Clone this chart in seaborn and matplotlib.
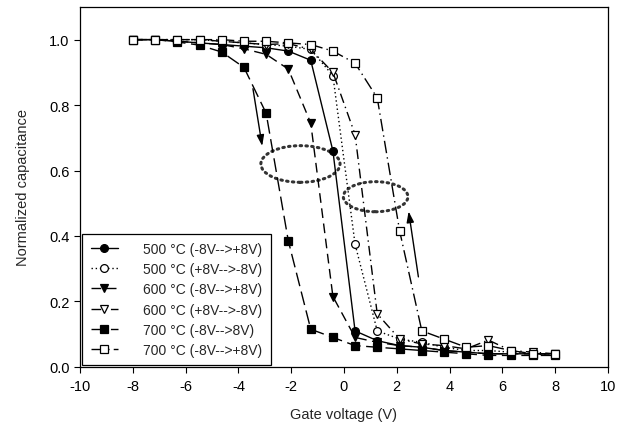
import numpy as np
import pandas as pd
import matplotlib
matplotlib.use("Agg")
import matplotlib.pyplot as plt
from matplotlib.patches import Ellipse
import seaborn as sns

# ---- data ----
gate_voltage = [-8.0, -7.16, -6.32, -5.47, -4.63, -3.79, -2.95, -2.11, -1.26, -0.42,
                0.42, 1.26, 2.11, 2.95, 3.79, 4.63, 5.47, 6.32, 7.16, 8.0]

c500_up = [1.0, 1.0, 0.995, 0.99, 0.985, 0.98, 0.975, 0.965, 0.937, 0.66,
           0.11, 0.08, 0.065, 0.06, 0.05, 0.045, 0.04, 0.04, 0.04, 0.04]
c500_down = [1.0, 1.0, 1.0, 1.0, 0.995, 0.99, 0.985, 0.98, 0.97, 0.89,
             0.375, 0.11, 0.085, 0.075, 0.06, 0.05, 0.05, 0.045, 0.04, 0.035]
c600_up = [1.0, 1.0, 0.995, 0.99, 0.985, 0.972, 0.955, 0.91, 0.745, 0.215,
           0.09, 0.075, 0.065, 0.06, 0.05, 0.045, 0.04, 0.04, 0.04, 0.04]
c600_down = [1.0, 1.0, 1.0, 1.0, 0.995, 0.99, 0.985, 0.988, 0.97, 0.90,
             0.71, 0.162, 0.085, 0.07, 0.065, 0.055, 0.082, 0.05, 0.045, 0.04]
c700_up_filled = [1.0, 1.0, 0.993, 0.983, 0.962, 0.915, 0.775, 0.385, 0.115, 0.09,
                  0.065, 0.06, 0.055, 0.05, 0.045, 0.04, 0.035, 0.035, 0.035, 0.035]
c700_up_open = [1.0, 1.0, 1.0, 1.0, 1.0, 0.995, 0.995, 0.99, 0.985, 0.965,
                0.928, 0.822, 0.415, 0.11, 0.085, 0.06, 0.065, 0.05, 0.04, 0.04]

labels = ["500 \u00b0C (-8V-->+8V)", "500 \u00b0C (+8V-->-8V)",
          "600 \u00b0C (-8V-->+8V)", "600 \u00b0C (+8V-->-8V)",
          "700 \u00b0C (-8V-->8V)", "700 \u00b0C (-8V-->+8V)"]

x_ticks = [-10, -8, -6, -4, -2, 0, 2, 4, 6, 8, 10]
y_ticks = [0.0, 0.2, 0.4, 0.6, 0.8, 1.0]

series = [c500_up, c500_down, c600_up, c600_down, c700_up_filled, c700_up_open]
styles = [
    dict(marker="o", mfc="black", ls="-"),
    dict(marker="o", mfc="white", ls=(0, (1, 2))),
    dict(marker="v", mfc="black", ls=(0, (7, 4))),
    dict(marker="v", mfc="white", ls=(0, (7, 3, 1, 3))),
    dict(marker="s", mfc="black", ls=(0, (10, 4))),
    dict(marker="s", mfc="white", ls=(0, (9, 3, 1, 3))),
]

sns.set_style("ticks")
plt.rcParams["font.family"] = ["Liberation Sans", "DejaVu Sans"]
plt.rcParams["axes.unicode_minus"] = False

fig = plt.figure(figsize=(6.26, 4.39), dpi=100)
ax = fig.add_axes([0.128, 0.162, 0.843, 0.820])

for vals, lab, st in zip(series, labels, styles):
    df = pd.DataFrame({"V": gate_voltage, "C": vals})
    sns.lineplot(data=df, x="V", y="C", ax=ax, color="black", linewidth=1.0,
                 linestyle=st["ls"], marker=st["marker"], markersize=5.6,
                 markerfacecolor=st["mfc"], markeredgecolor="black",
                 markeredgewidth=0.9, label=lab, sort=False, estimator=None)

# dotted ellipses
ax.add_patch(Ellipse((-1.65, 0.62), 3.0, 0.112, fill=False, ls=(0, (0.5, 1.4)),
                     lw=2.2, ec="#333333", capstyle="round"))
ax.add_patch(Ellipse((1.2, 0.52), 2.45, 0.092, fill=False, ls=(0, (0.5, 1.4)),
                     lw=2.2, ec="#333333", capstyle="round"))

# arrows
arrow_style = "-|>,head_width=0.22,head_length=0.65"
ax.annotate("", xy=(-3.1, 0.675), xytext=(-3.45, 0.85),
            arrowprops=dict(arrowstyle=arrow_style, color="black", lw=1.0,
                            mutation_scale=10, shrinkA=0, shrinkB=0))
ax.annotate("", xy=(2.45, 0.475), xytext=(2.82, 0.275),
            arrowprops=dict(arrowstyle=arrow_style, color="black", lw=1.0,
                            mutation_scale=10, shrinkA=0, shrinkB=0))

ax.set_xlim(-10, 10)
ax.set_ylim(0, 1.1)
ax.set_xticks(x_ticks)
ax.set_yticks(y_ticks)
ax.set_xticklabels([str(v) for v in x_ticks])
ax.set_yticklabels([f"{v:.1f}" for v in y_ticks])
ax.tick_params(direction="out", length=4, width=0.8, labelsize=10.5, colors="black")
ax.tick_params(axis="x", pad=5)
for s in ax.spines.values():
    s.set_visible(True)
    s.set_linewidth(0.9)
    s.set_color("black")
ax.set_xlabel("Gate voltage (V)", fontsize=10.5, labelpad=10)
ax.set_ylabel("Normalized capacitance", fontsize=10.5, labelpad=14)

leg = ax.legend(loc="lower left", bbox_to_anchor=(0.004, 0.004), frameon=True,
                fancybox=False, edgecolor="black", fontsize=10, handlelength=2.0,
                borderpad=0.6, labelspacing=0.45, handletextpad=1.8,
                borderaxespad=0.0)
leg.get_frame().set_linewidth(0.9)
leg.get_frame().set_alpha(1)

fig.savefig("out.png", dpi=100)
